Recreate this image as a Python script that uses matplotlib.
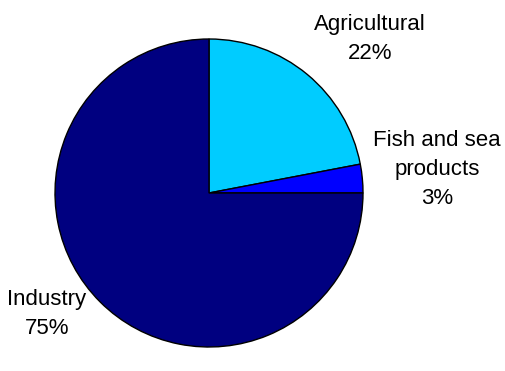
import matplotlib
matplotlib.use("Agg")
import matplotlib.pyplot as plt

# slice data, clockwise from 12 o'clock
labels = ["Agricultural", "Fish and sea\nproducts", "Industry"]
shares = [22, 3, 75]
colors = ["#00CCFF", "#0000FF", "#000080"]

plt.rcParams['font.family'] = ['Liberation Sans', 'DejaVu Sans']

fig = plt.figure(figsize=(5.05, 3.71), dpi=100)
ax = fig.add_axes([0, 0, 1, 1])

ax.pie(shares, colors=colors, startangle=90, counterclock=False,
       center=(209, 178), radius=154, frame=True,
       wedgeprops=dict(edgecolor='black', linewidth=1))
ax.set_xlim(0, 505)
ax.set_ylim(0, 371)
ax.axis('off')

# label positions (pixels from top-left)
label_pos = [(370, 39), (437, 170), (47, 314)]
for lab, val, (x, y) in zip(labels, shares, label_pos):
    ax.text(x, 371 - y, f"{lab}\n{val}%", ha='center', va='center',
            fontsize=16, linespacing=1.5, color='black')

fig.savefig("out.png", dpi=100)
